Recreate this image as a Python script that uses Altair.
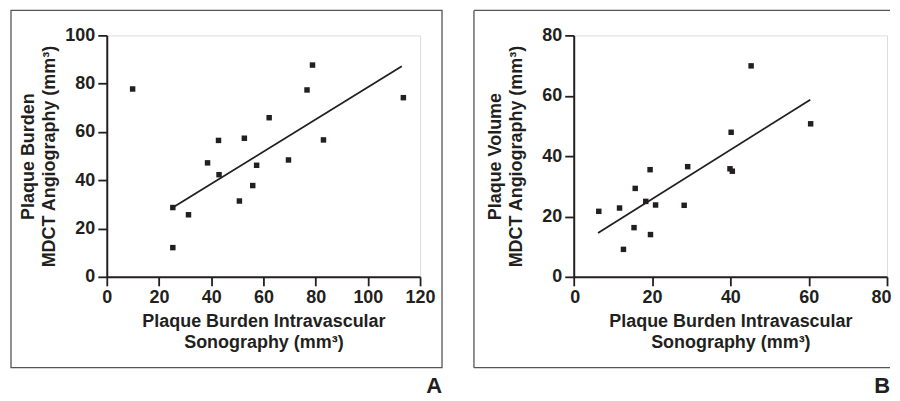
import altair as alt
import pandas as pd

# Panel A data
a_x = [9.9, 25.3, 25.3, 31.3, 38.6, 42.8, 43.0, 50.8, 52.7, 55.9, 57.4, 62.2, 69.6, 76.7, 78.8, 83.0, 113.6]
a_y = [77.8, 28.7, 12.1, 25.7, 47.2, 56.5, 42.3, 31.4, 57.4, 37.8, 46.2, 65.9, 48.4, 77.4, 87.7, 56.7, 74.2]
a_fit_x = [25.3, 113.0]
a_fit_y = [28.7, 87.2]
a_xticks = [0, 20, 40, 60, 80, 100, 120]
a_yticks = [0, 20, 40, 60, 80, 100]

# Panel B data
b_x = [6.4, 11.7, 12.7, 15.4, 15.7, 18.4, 19.5, 19.6, 20.9, 28.2, 29.1, 39.9, 40.5, 40.2, 45.3, 60.5]
b_y = [21.7, 22.8, 9.1, 16.3, 29.3, 25.0, 35.5, 14.0, 23.8, 23.7, 36.5, 35.8, 35.0, 47.9, 69.9, 50.7]
b_fit_x = [6.2, 60.4]
b_fit_y = [14.5, 58.7]
b_xticks = [0, 20, 40, 60, 80]
b_yticks = [0, 20, 40, 60, 80]

x_title = ["Plaque Burden Intravascular", "Sonography (mm³)"]
a_y_title = ["Plaque Burden", "MDCT Angiography (mm³)"]
b_y_title = ["Plaque Volume", "MDCT Angiography (mm³)"]

FONT = "Liberation Sans, Arial, Helvetica, sans-serif"
INK = "#231f20"
FRAME = "#555555"
W, H = 314, 242


def axis(values, title, is_y=False, flush_right=False):
    kw = dict(
        values=values, title=title, grid=False, labelFlush=False,
        domainColor=INK, domainWidth=2, tickColor=INK, tickWidth=1.8, tickSize=9,
        labelFont=FONT, labelFontSize=18, labelFontWeight="bold", labelColor=INK,
        titleFont=FONT, titleFontSize=18, titleFontWeight="bold", titleColor=INK,
        titleLineHeight=21,
    )
    if is_y:
        kw.update(labelPadding=3, titleX=-69)
    else:
        kw.update(labelPadding=3, titlePadding=6)
    if flush_right:
        kw.update(labelFlush=True, labelFlushOffset=4)
    return alt.Axis(**kw)


def panel(xs, ys, fx, fy, xdom, ydom, xt, yt, ytitle, letter, frame_x, label_x, closed):
    pts = pd.DataFrame({"x": xs, "y": ys})
    fit = pd.DataFrame({"x": fx, "y": fy})
    xs_ = alt.Scale(domain=xdom, nice=False, zero=False)
    ys_ = alt.Scale(domain=ydom, nice=False, zero=False)
    points = alt.Chart(pts).mark_square(size=30, color=INK, opacity=1).encode(
        x=alt.X("x:Q", scale=xs_, axis=axis(xt, x_title, flush_right=not closed)),
        y=alt.Y("y:Q", scale=ys_, axis=axis(yt, ytitle, True)),
    )
    line = alt.Chart(fit).mark_line(color=INK, strokeWidth=1.8).encode(
        x=alt.X("x:Q", scale=xs_), y=alt.Y("y:Q", scale=ys_)
    )
    one = alt.Data(values=[{"k": 1}])
    layers = []
    if closed:
        layers.append(alt.Chart(one).mark_rect(fillOpacity=0, stroke=FRAME, strokeWidth=1.3).encode(
            x=alt.value(frame_x[0]), x2=alt.value(frame_x[1]),
            y=alt.value(-25), y2=alt.value(333),
        ))
    else:
        rule = dict(color=FRAME, strokeWidth=1.3)
        layers.append(alt.Chart(one).mark_rule(**rule).encode(
            x=alt.value(frame_x[0]), x2=alt.value(frame_x[1]), y=alt.value(-25)))
        layers.append(alt.Chart(one).mark_rule(**rule).encode(
            x=alt.value(frame_x[0]), x2=alt.value(frame_x[1]), y=alt.value(333)))
        layers.append(alt.Chart(one).mark_rule(**rule).encode(
            x=alt.value(frame_x[0]), y=alt.value(-25), y2=alt.value(333)))
    lab = alt.Chart(one).mark_text(
        text=letter, font=FONT, fontSize=22, fontWeight="bold", color=INK,
        align="right", baseline="alphabetic",
    ).encode(x=alt.value(label_x), y=alt.value(358))
    return alt.layer(*layers, line, points, lab).properties(width=W, height=H)


left = panel(a_x, a_y, a_fit_x, a_fit_y, [0, 120], [0, 100], a_xticks, a_yticks,
             a_y_title, "A", (-96, 336), 336, True)
right = panel(b_x, b_y, b_fit_x, b_fit_y, [0, 80], [0, 80], b_xticks, b_yticks,
              b_y_title, "B", (-100, 317), 317, False)

chart = alt.hconcat(left, right, spacing=154, bounds="flush").properties(
    padding={"left": 1, "top": 0, "right": 0, "bottom": 0}
).configure_view(strokeOpacity=0).configure(background="white")

chart.save("out.html", embed_options={"renderer": "svg", "actions": False})
